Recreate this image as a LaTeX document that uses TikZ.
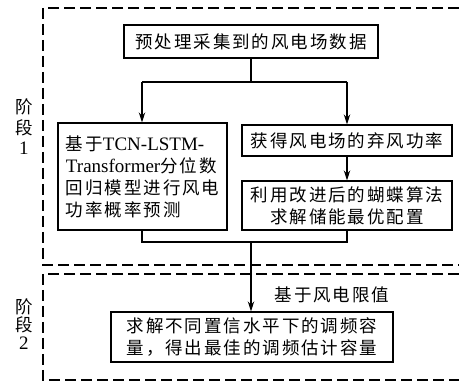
\documentclass[tikz,border=0pt]{standalone}
\usepackage{fontspec}
\setmainfont{Liberation Serif}
\newfontfamily\cjk[LetterSpace=11]{Noto Sans CJK SC}
\usetikzlibrary{arrows.meta}
\newcommand{\zh}[1]{{\cjk\fontsize{17.5}{22}\selectfont #1}}
\tikzset{
  stagebox/.style={draw=black, line width=2.5pt, dash pattern=on 11pt off 5pt},
  procbox/.style={draw=black, line width=1.3pt, inner sep=0pt, font=\fontsize{19}{22}\selectfont},
  conn/.style={draw=black, line width=1.3pt},
  arr/.style={conn, -{Stealth[length=10pt,width=6.5pt]}},
  lbl/.style={inner sep=0pt, font=\fontsize{19}{22}\selectfont}
}
\begin{document}
\begin{tikzpicture}[x=1pt,y=-1pt]
\useasboundingbox (0,0) rectangle (459,385);
\clip (0,0) rectangle (459,385);
% stage frames
\draw[stagebox] (475,8) -- (43,8) -- (43,265) -- (475,265);
\draw[stagebox] (475,274) -- (43,274) -- (43,380) -- (475,380);
% stage labels
\node[lbl] (s1a) at (24,107) {\zh{阶}};
\node[lbl] (s1b) at (24,128) {\zh{段}};
\node[lbl] (s1c) at (24,148) {1};
\node[lbl] (s2a) at (24,307) {\zh{阶}};
\node[lbl] (s2b) at (24,325) {\zh{段}};
\node[lbl] (s2c) at (24,343) {2};
% boxes
\node[procbox, minimum width=254pt, minimum height=33pt] (top) at (251,41.5) {\zh{预处理采集到的风电场数据}};
\node[procbox, minimum width=169pt, minimum height=107pt, text width=153pt, align=left] (left) at (142.5,176.5)
  {\zh{基于}TCN-LSTM-\\Transformer\zh{分位数}\\\zh{回归模型进行风电}\\\zh{功率概率预测}};
\node[procbox, minimum width=210pt, minimum height=31pt] (r1) at (347,140.5) {\zh{获得风电场的弃风功率}};
\node[procbox, minimum width=210pt, minimum height=49pt, align=center] (r2) at (347,205.5)
  {\zh{利用改进后的蝴蝶算法}\\\zh{求解储能最优配置}};
\node[procbox, minimum width=282pt, minimum height=50pt, align=center] (bot) at (252,337)
  {\zh{求解不同置信水平下的调频容}\\\zh{量，得出最佳的调频估计容量}};
\node[lbl] (lim) at (332,295) {\zh{基于风电限值}};
% connectors
\coordinate (split) at (251,82);
\coordinate (splitL) at (142,82);
\coordinate (splitR) at (347,82);
\coordinate (mergeL) at (142,242);
\coordinate (mergeR) at (347,242);
\coordinate (merge) at (251,242);
\draw[conn] (top.south -| split) -- (split);
\draw[conn] (splitL) -- (splitR);
\draw[arr] (splitL) -- (splitL |- left.north);
\draw[arr] (splitR) -- (r1.north);
\draw[arr] (r1.south) -- (r2.north);
\draw[conn] (left.south -| mergeL) -- (mergeL) -- (mergeR) -- (r2.south);
\draw[arr] (merge) -- (merge |- bot.north);
\end{tikzpicture}
\end{document}
